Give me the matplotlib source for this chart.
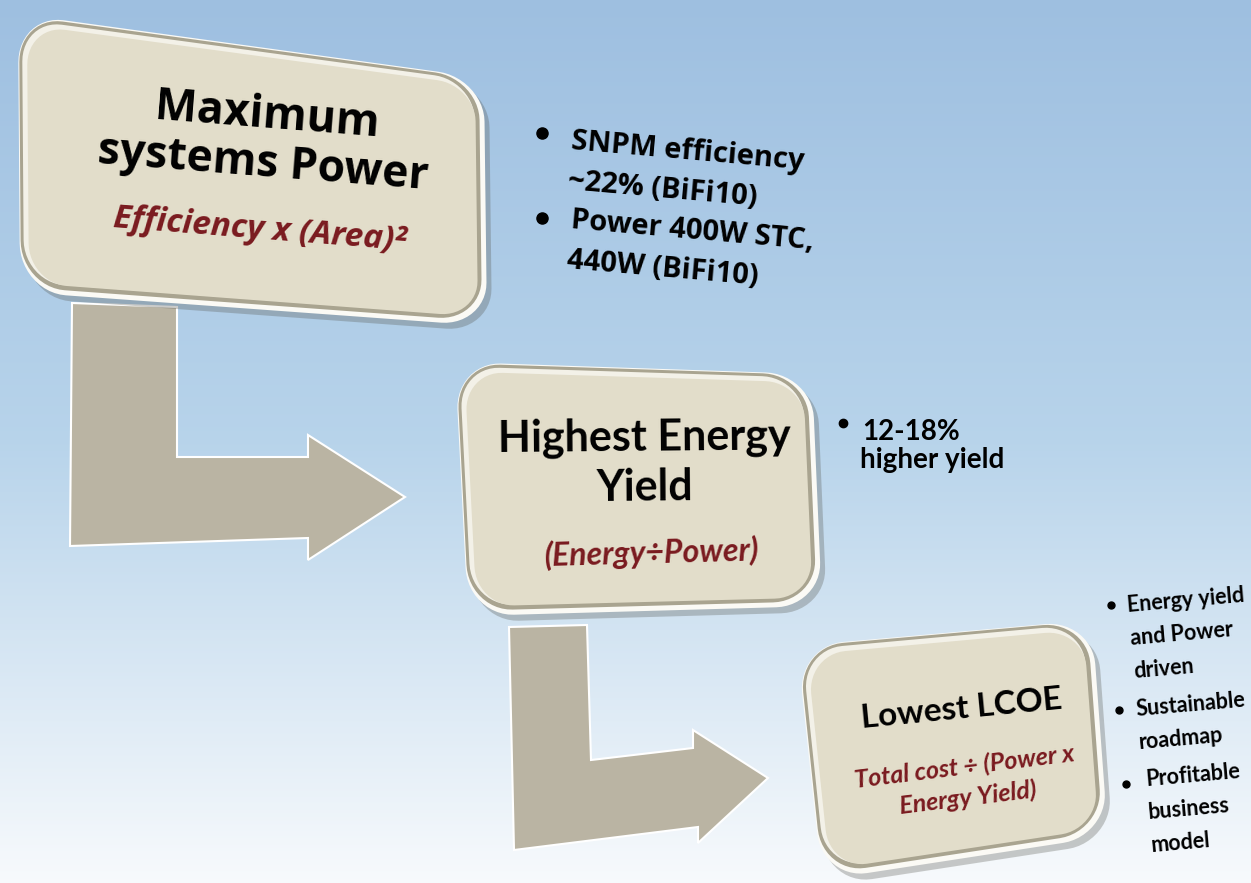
import numpy as np
import matplotlib
matplotlib.use("Agg")
import matplotlib.pyplot as plt
from matplotlib.patches import Polygon

plt.rcParams['font.family'] = ['Lato', 'DejaVu Sans']

W, H = 1251, 883

# ---- content ----
box_titles = [["Maximum", "systems Power"], ["Highest Energy", "Yield"], ["Lowest LCOE"]]
box_formulas = [["Efficiency x (Area)\u00b2"], ["(Energy\u00f7Power)"],
                ["Total cost \u00f7 (Power x", "Energy Yield)"]]
notes_1 = [["SNPM efficiency", "~22% (BiFi10)"], ["Power 400W STC,", "440W (BiFi10)"]]
notes_2 = [["12-18%", "higher yield"]]
notes_3 = [["Energy yield", "and Power", "driven"], ["Sustainable", "roadmap"],
           ["Profitable", "business", "model"]]

# box corners (TL, TR, BR, BL) in pixels
box_corners = [
    [(18, 14), (484, 78), (487, 326), (20, 292)],
    [(455, 362), (812, 374), (822, 606), (468, 616)],
    [(797, 646), (1092, 620), (1108, 836), (822, 880)],
]
# L-shaped arrows
arrow_pts = [
    [(72, 303), (177, 307), (177, 457), (308, 457), (308, 435), (405, 497),
     (308, 560), (308, 538), (70, 546)],
    [(509, 627), (587, 625), (591, 760), (693, 748), (693, 730), (768, 778),
     (698, 843), (698, 827), (514, 850)],
]

DARK_RED = "#7a1a1f"
BEIGE = "#e2ddca"
BEVEL = "#a9a490"
ARROW = "#bab4a3"
OPEN = ['Open Sans', 'DejaVu Sans']


def rounded_quad(corners, inset, radius, n=14):
    TL, TR, BR, BL = [np.array(c, float) for c in corners]
    w = (np.linalg.norm(TR - TL) + np.linalg.norm(BR - BL)) / 2
    h = (np.linalg.norm(BL - TL) + np.linalg.norm(BR - TR)) / 2
    dx, dy = inset / w, inset / h
    rx, ry = radius / w, radius / h
    x0, x1, y0, y1 = dx, 1 - dx, dy, 1 - dy
    pts = []
    centers = [(x1 - rx, y0 + ry, -90, 0), (x1 - rx, y1 - ry, 0, 90),
               (x0 + rx, y1 - ry, 90, 180), (x0 + rx, y0 + ry, 180, 270)]
    for cx, cy, a0, a1 in centers:
        for a in np.radians(np.linspace(a0, a1, n)):
            pts.append((cx + rx * np.cos(a), cy + ry * np.sin(a)))
    out = []
    for u, v in pts:
        out.append((1 - u) * (1 - v) * TL + u * (1 - v) * TR + u * v * BR + (1 - u) * v * BL)
    return np.array(out)


def draw_lines(ax, x, y, lines, gap, rot, ha='center', **kw):
    # one text per line, stacked along the rotated "down" direction
    t = np.radians(rot)
    for i, s in enumerate(lines):
        ax.text(x + i * gap * np.sin(t), y + i * gap * np.cos(t), s, ha=ha,
                va='baseline', rotation=rot, rotation_mode='anchor', zorder=10,
                fontweight='bold', **kw)


fig = plt.figure(figsize=(W / 100, H / 100), dpi=100)
ax = fig.add_axes([0, 0, 1, 1])
ax.set_xlim(0, W)
ax.set_ylim(H, 0)
ax.axis('off')

# sky gradient background
top = np.array([0.62, 0.75, 0.88])
mid = np.array([0.72, 0.83, 0.92])
bot = np.array([0.97, 0.98, 0.99])
yy = np.linspace(0, 1, 300)
grad = np.array([top + (mid - top) * (y / 0.5) if y < 0.5 else mid + (bot - mid) * ((y - 0.5) / 0.5)
                 for y in yy])
ax.imshow(grad[:, None, :], extent=[0, W, H, 0], aspect='auto', zorder=0)

# arrows
for pts in arrow_pts:
    ax.add_patch(Polygon(pts, closed=True, facecolor=ARROW, edgecolor='white',
                         lw=1.5, zorder=1))

# boxes with a bevelled rim
for corners in box_corners:
    shadow = rounded_quad(corners, 0, 46) + np.array([5, 6])
    ax.add_patch(Polygon(shadow, closed=True, facecolor='#55554d', alpha=0.3,
                         edgecolor='none', zorder=2))
    ax.add_patch(Polygon(rounded_quad(corners, 0, 46), closed=True,
                         facecolor='#fbfaf5', edgecolor='none', zorder=3))
    ax.add_patch(Polygon(rounded_quad(corners, 3, 44) + np.array([-2, -2]), closed=True,
                         facecolor=BEVEL, edgecolor='none', zorder=4))
    ax.add_patch(Polygon(rounded_quad(corners, 7, 40) + np.array([-3, -3]), closed=True,
                         facecolor='#f3f1e8', edgecolor='none', zorder=5))
    ax.add_patch(Polygon(rounded_quad(corners, 9, 38), closed=True,
                         facecolor=BEIGE, edgecolor='none', zorder=6))

# box 1 text
draw_lines(ax, 266, 128, box_titles[0], 48, -4.5, fontsize=32, family=OPEN)
draw_lines(ax, 259, 239, box_formulas[0], 0, -4.5, fontsize=24, family=OPEN,
           style='italic', color=DARK_RED)

# box 2 text
draw_lines(ax, 644, 450, box_titles[1], 51, 0.5, fontsize=31)
draw_lines(ax, 652, 563, box_formulas[1], 0, 1.5, fontsize=23, style='italic', color=DARK_RED)

# box 3 text
draw_lines(ax, 962, 718, box_titles[2], 0, 5.5, fontsize=24)
draw_lines(ax, 965, 775, box_formulas[2], 31, 7, fontsize=18, style='italic', color=DARK_RED)

# bullets beside box 1
b1_anchor = [(571, 149), (570, 228)]
b1_dots = [(542, 133), (542, 218)]
for (x, y), (dx_, dy_), lines in zip(b1_anchor, b1_dots, notes_1):
    ax.plot(dx_, dy_, 'o', ms=8, color='black', zorder=10)
    draw_lines(ax, x, y, lines, 40, -5, ha='left', fontsize=21, family=OPEN)

# bullet beside box 2
ax.plot(843, 423, 'o', ms=6, color='black', zorder=10)
draw_lines(ax, 862, 440, notes_2[0][:1], 0, 0, ha='left', fontsize=20)
draw_lines(ax, 860, 468, notes_2[0][1:], 0, 0, ha='left', fontsize=20)

# bullets beside box 3
b3_anchor = [(1128, 612), (1137, 716), (1146, 786)]
b3_dots = [(1111, 605), (1119, 710), (1126, 784)]
for (x, y), (dx_, dy_), lines in zip(b3_anchor, b3_dots, notes_3):
    ax.plot(dx_, dy_, 'o', ms=5, color='black', zorder=10)
    draw_lines(ax, x, y, lines, 33, 5, ha='left', fontsize=15.5)

fig.savefig("out.png", dpi=100)
